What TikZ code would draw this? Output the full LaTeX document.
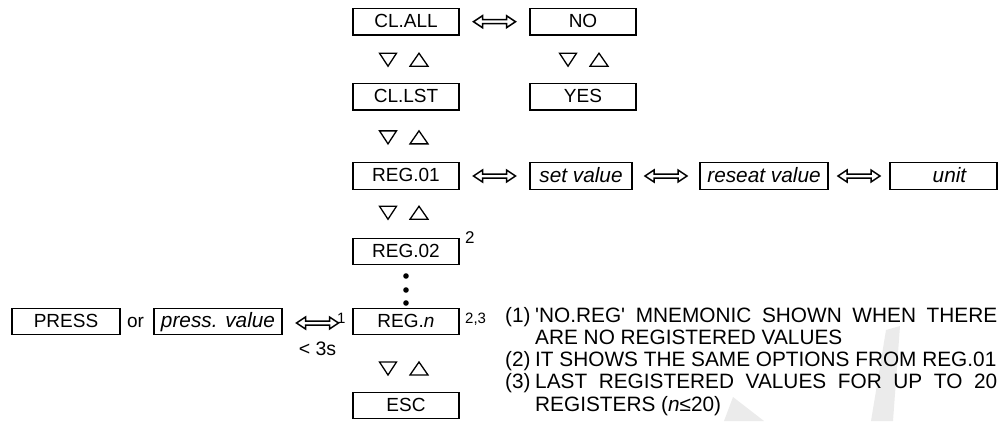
\documentclass[tikz,border=0pt]{standalone}
\usepackage{fontspec}
\setmainfont{Liberation Sans}[Ligatures=TeXOff]
\usetikzlibrary{calc,positioning}

\tikzset{
  dblarrow/.pic={
    \draw[line width=1.5pt,fill=white,line join=miter]
      (-21,0) -- (-12,-6) -- (-12,-2) -- (12,-2) -- (12,-6)
      -- (21,0) -- (12,6) -- (12,2) -- (-12,2) -- (-12,6) -- cycle;
  },
  updown/.pic={
    \draw[line width=1.3pt,line join=miter] (-24,-6.5) -- (-7,-6.5) -- (-15.5,6.5) -- cycle;
    \draw[line width=1.3pt,line join=miter] (6.5,6.5) -- (24.5,6.5) -- (15.5,-6.5) -- cycle;
  }
}

\begin{document}
\begin{tikzpicture}[x=1pt,y=-1pt,
  menu/.style={draw,line width=1.4pt,inner sep=0,minimum width=106pt,minimum height=26.5pt,
    text height=11pt,text depth=0pt,font=\fontsize{19}{21}\selectfont},
  entry/.style={menu,text height=12pt,font=\fontsize{20.8}{24}\itshape\selectfont},
  sup/.style={anchor=base west,inner sep=0,font=\fontsize{15}{17}\selectfont},
  note/.style={anchor=base west,inner sep=0,font=\fontsize{20.8}{22}\selectfont}]
\useasboundingbox (0,0) rectangle (998,421);

% watermark
\fill[black!8] (733,397) -- (724,421) -- (764,421) -- cycle;
\fill[black!8] (886,330) -- (900,326) -- (893,421) -- (871,421) -- cycle;

% main column
\node[menu] (clall) at (406,21.7)  {CL.ALL};
\node[menu] (cllst) at (406,96.7)  {CL.LST};
\node[menu] (reg1)  at (406,176)   {REG.01};
\node[menu] (reg2)  at (406,251.5) {REG.02};
\node[menu] (regn)  at (406,321.5) {REG.\textit{n}};
\node[menu] (esc)   at (406,405.5) {ESC};

% clear all
\node[menu] (no)  at (583,21.7) {NO};
\node[menu] (yes) at (583,96.7) {YES};

% register entries
\node[entry,minimum width=102pt] (setval) at (581,176)   {set value};
\node[entry,minimum width=128pt] (resval) at (764,176)   {reseat value};
\node[entry,minimum width=107pt] (unit)   at (943.5,176) {\hspace*{12pt}unit};

% entry from measurement
\node[menu,minimum width=108pt] (press) at (66,321.5) {PRESS};
\node[anchor=base,inner sep=0,font=\fontsize{19}{21}\selectfont] (or) at (135.5,327.5) {or};
\node[entry,minimum width=128pt] (pval) at (218,321.5) {press. value};

% arrows
\path ($(clall.east)!.5!(no.west)$)    pic {dblarrow};
\path ($(reg1.east)!.5!(setval.west)$) pic {dblarrow};
\path ($(setval.east)!.5!(resval.west)$) pic {dblarrow};
\path ($(resval.east)!.5!(unit.west)$)   pic {dblarrow};
\path ($(pval.east)!.5!(regn.west)+(0,1.5)$) coordinate (hold) pic {dblarrow};

\path ($(clall.south)!.5!(cllst.north)+(-2.5,0.5)$) pic {updown};
\path ($(cllst.south)!.5!(reg1.north)+(-2.5,1)$)    pic {updown};
\path ($(reg1.south)!.5!(reg2.north)+(-2.5,-1)$)    pic {updown};
\path ($(regn.south)!.5!(esc.north)+(-2.5,5)$)      pic {updown};
\path ($(no.south)!.5!(yes.north)+(0.5,0.5)$)       pic {updown};

% dots
\foreach \y in {276,290,303}
  \fill (406,\y) circle (2.8);

% marks
\node[sup,font=\fontsize{17}{19}\selectfont] at (465,243) {2};
\node[sup] at (465,323) {2,3};
\node[sup,font=\fontsize{15}{17}\selectfont] at (337,323) {1};
\node[anchor=base,inner sep=0,font=\fontsize{19.5}{21}\selectfont] at (317.5,355) {< 3s};

% notes
\node[note] (n1) at (505,322) {\makebox[30pt][l]{(1)}\makebox[462pt][s]{'NO.REG' MNEMONIC SHOWN WHEN THERE}};
\node[note] (n2) at (505,344.3) {\makebox[30pt][l]{}ARE NO REGISTERED VALUES};
\node[note] (n3) at (505,366.6) {\makebox[30pt][l]{(2)}IT SHOWS THE SAME OPTIONS FROM REG.01};
\node[note] (n4) at (505,388.9) {\makebox[30pt][l]{(3)}\makebox[462pt][s]{LAST REGISTERED VALUES FOR UP TO 20}};
\node[note] (n5) at (505,411.2) {\makebox[30pt][l]{}REGISTERS (\textit{n}≤20)};
\end{tikzpicture}
\end{document}
